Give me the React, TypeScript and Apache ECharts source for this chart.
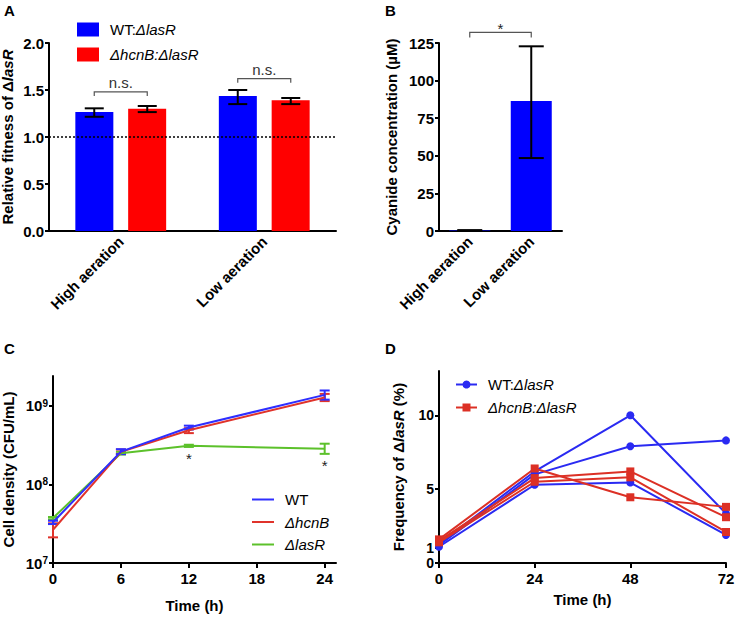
import React, { useEffect, useRef } from "react";
import * as echarts from "echarts";

const FONT = 'Arial, "Liberation Sans", Helvetica, sans-serif';

// ---------- Panel A: relative fitness of ΔlasR ----------
const aerationCategories = ["High aeration", "Low aeration"];
const fitnessWT = [1.265, 1.435];
const fitnessWTLow = [1.215, 1.35];
const fitnessWTHigh = [1.305, 1.5];
const fitnessHcnB = [1.3, 1.39];
const fitnessHcnBLow = [1.265, 1.35];
const fitnessHcnBHigh = [1.33, 1.415];
const fitnessBracketY = [1.48, 1.62];
const fitnessBracketLabels = ["n.s.", "n.s."];
const fitnessNeutral = 1.0;

// ---------- Panel B: cyanide concentration ----------
const cyanideMean = [0.3, 86.4];
const cyanideLow = [0.0, 48.5];
const cyanideHigh = [0.6, 122.8];
const cyanideBracket = [0, 1, 132];
const cyanideBracketLabel = "*";

// ---------- Panel C: growth curves ----------
const growthTimes = [0, 6, 12, 24];
const growthTimeTicks = [0, 6, 12, 18, 24];
const densityTicks = [1e7, 1e8, 1e9];
const growthWT = [3.3e7, 2.62e8, 5.3e8, 1.38e9];
const growthWTLow = [3.13e7, 2.43e8, 5.0e8, 1.2e9];
const growthWTHigh = [3.45e7, 2.81e8, 5.6e8, 1.57e9];
const growthHcnB = [2.65e7, 2.6e8, 4.9e8, 1.28e9];
const growthHcnBLow = [2.12e7, 2.45e8, 4.5e8, 1.15e9];
const growthHcnBHigh = [3.2e7, 2.78e8, 5.2e8, 1.42e9];
const growthLasR = [3.73e7, 2.5e8, 3.1e8, 2.85e8];
const growthLasRLow = [3.6e7, 2.4e8, 3.0e8, 2.45e8];
const growthLasRHigh = [3.85e7, 2.6e8, 3.2e8, 3.3e8];
const starTimes = [12, 24];
const starValues = [2.31e8, 1.88e8];

// ---------- Panel D: frequency of ΔlasR ----------
const freqTimes = [0, 24, 48, 72];
const freqTicks = [1, 5, 10];
const freqZeroTick = [0];
const freqWT1 = [1.3, 6.2, 10.0, 3.35];
const freqWT2 = [1.2, 6.0, 7.9, 8.3];
const freqWT3 = [1.1, 5.3, 5.45, 1.9];
const freqHcnB1 = [1.6, 6.4, 4.45, 3.8];
const freqHcnB2 = [1.5, 5.75, 6.2, 3.1];
const freqHcnB3 = [1.4, 5.5, 5.8, 2.1];

const BLUE = "#0000ff";
const RED = "#ff0000";
const C_BLUE = "#2e2eff";
const C_RED = "#e0332b";
const C_GREEN = "#5cc12b";
const D_BLUE = "#2a2af2";
const D_RED = "#dc3025";

const legendLabels: Record<string, string> = {
  A_WT: "WT:{i|ΔlasR}",
  A_HCNB: "{i|ΔhcnB:ΔlasR}",
  C_WT: "WT",
  C_HCNB: "{i|ΔhcnB}",
  C_LASR: "{i|ΔlasR}",
  D_WT: "WT:{i|ΔlasR}",
  D_HCNB: "{i|ΔhcnB:ΔlasR}",
};

const tickLabel = {
  color: "#000",
  fontSize: 15,
  fontWeight: "bold" as const,
  fontFamily: FONT,
  showMinLabel: true,
  showMaxLabel: true,
  hideOverlap: false,
};
const axisLine = { show: true, onZero: false, lineStyle: { color: "#000", width: 2 } };
const axisTick = { show: true, length: 4, lineStyle: { color: "#000", width: 2 } };
const nameStyle = {
  color: "#000",
  fontSize: 15,
  fontWeight: "bold" as const,
  fontFamily: FONT,
  rich: { i: { fontStyle: "italic", fontWeight: "bold", fontSize: 15, fontFamily: FONT, color: "#000" } },
};

function errorBars(offset: number, capHalf: number, color: string) {
  return (_params: any, api: any) => {
    const lo = api.coord([api.value(0), api.value(1)]);
    const hi = api.coord([api.value(0), api.value(2)]);
    const cx = lo[0] + offset;
    const style = { stroke: color, lineWidth: 2 };
    return {
      type: "group",
      children: [
        { type: "line", shape: { x1: cx, y1: lo[1], x2: cx, y2: hi[1] }, style },
        { type: "line", shape: { x1: cx - capHalf, y1: lo[1], x2: cx + capHalf, y2: lo[1] }, style },
        { type: "line", shape: { x1: cx - capHalf, y1: hi[1], x2: cx + capHalf, y2: hi[1] }, style },
      ],
    };
  };
}

function pairs(xs: number[], ys: number[]) {
  return xs.map((x, i) => [x, ys[i]]);
}

function buildOption(): any {
  const BAR_OFF = 26.5;
  const series: any[] = [];

  // Panel A
  series.push({
    type: "bar",
    name: "A_WT",
    xAxisIndex: 0,
    yAxisIndex: 0,
    data: fitnessWT,
    barWidth: 38,
    barGap: "39%",
    itemStyle: { color: BLUE },
    markLine: {
      silent: true,
      symbol: ["none", "none"],
      label: { show: false },
      lineStyle: { type: [2, 2], color: "#000", width: 1.5 },
      data: [{ yAxis: fitnessNeutral }],
    },
  });
  series.push({
    type: "bar",
    name: "A_HCNB",
    xAxisIndex: 0,
    yAxisIndex: 0,
    data: fitnessHcnB,
    barWidth: 38,
    barGap: "39%",
    itemStyle: { color: RED },
  });
  series.push({
    type: "custom",
    xAxisIndex: 0,
    yAxisIndex: 0,
    z: 5,
    encode: { x: 0, y: [1, 2] },
    data: aerationCategories.map((_, i) => [i, fitnessWTLow[i], fitnessWTHigh[i]]),
    renderItem: errorBars(-BAR_OFF, 9.5, "#000"),
  });
  series.push({
    type: "custom",
    xAxisIndex: 0,
    yAxisIndex: 0,
    z: 5,
    encode: { x: 0, y: [1, 2] },
    data: aerationCategories.map((_, i) => [i, fitnessHcnBLow[i], fitnessHcnBHigh[i]]),
    renderItem: errorBars(BAR_OFF, 9.5, "#000"),
  });
  series.push({
    type: "custom",
    xAxisIndex: 0,
    yAxisIndex: 0,
    clip: false,
    encode: { x: 0, y: 1 },
    data: fitnessBracketY.map((y, i) => [i, y]),
    renderItem: (params: any, api: any) => {
      const p = api.coord([api.value(0), api.value(1)]);
      const l = p[0] - BAR_OFF;
      const r = p[0] + BAR_OFF;
      const y = p[1];
      return {
        type: "group",
        children: [
          {
            type: "polyline",
            shape: { points: [[l, y + 4], [l, y], [r, y], [r, y + 4]] },
            style: { stroke: "#555", lineWidth: 1.2, fill: null },
          },
          {
            type: "text",
            x: (l + r) / 2,
            y: y - 2,
            style: {
              text: fitnessBracketLabels[params.dataIndex],
              fontSize: 15,
              fontFamily: FONT,
              fill: "#333",
              align: "center",
              verticalAlign: "bottom",
            },
          },
        ],
      };
    },
  });

  // Panel B
  series.push({
    type: "bar",
    name: "B_CN",
    xAxisIndex: 1,
    yAxisIndex: 1,
    data: cyanideMean,
    barWidth: 41,
    itemStyle: { color: BLUE },
  });
  series.push({
    type: "custom",
    xAxisIndex: 1,
    yAxisIndex: 1,
    z: 5,
    clip: false,
    encode: { x: 0, y: [1, 2] },
    data: aerationCategories.map((_, i) => [i, cyanideLow[i], cyanideHigh[i]]),
    renderItem: errorBars(0, 12.5, "#000"),
  });
  series.push({
    type: "custom",
    xAxisIndex: 1,
    yAxisIndex: 1,
    clip: false,
    encode: { x: 0, y: 2 },
    data: [cyanideBracket],
    renderItem: (_params: any, api: any) => {
      const p0 = api.coord([api.value(0), api.value(2)]);
      const p1 = api.coord([api.value(1), api.value(2)]);
      const y = p0[1];
      return {
        type: "group",
        children: [
          {
            type: "polyline",
            shape: { points: [[p0[0], y + 5], [p0[0], y], [p1[0], y], [p1[0], y + 5]] },
            style: { stroke: "#555", lineWidth: 1.2, fill: null },
          },
          {
            type: "text",
            x: (p0[0] + p1[0]) / 2,
            y: y - 4,
            style: {
              text: cyanideBracketLabel,
              fontSize: 15,
              fontFamily: FONT,
              fill: "#222",
              align: "center",
              verticalAlign: "middle",
            },
          },
        ],
      };
    },
  });

  // Panel C
  const cGroups = [
    { name: "C_LASR", mean: growthLasR, lo: growthLasRLow, hi: growthLasRHigh, color: C_GREEN },
    { name: "C_HCNB", mean: growthHcnB, lo: growthHcnBLow, hi: growthHcnBHigh, color: C_RED },
    { name: "C_WT", mean: growthWT, lo: growthWTLow, hi: growthWTHigh, color: C_BLUE },
  ];
  cGroups.forEach((g) => {
    series.push({
      type: "line",
      name: g.name,
      xAxisIndex: 2,
      yAxisIndex: 2,
      data: pairs(growthTimes, g.mean),
      symbol: "none",
      lineStyle: { color: g.color, width: 2 },
      itemStyle: { color: g.color },
    });
    series.push({
      type: "custom",
      xAxisIndex: 2,
      yAxisIndex: 2,
      clip: false,
      encode: { x: 0, y: [1, 2] },
      data: growthTimes.map((t, i) => [t, g.lo[i], g.hi[i]]),
      renderItem: errorBars(0, 5, g.color),
    });
  });
  series.push({
    type: "custom",
    xAxisIndex: 2,
    yAxisIndex: 2,
    clip: false,
    encode: { x: 0, y: 1 },
    data: pairs(starTimes, starValues),
    renderItem: (_params: any, api: any) => {
      const p = api.coord([api.value(0), api.value(1)]);
      return {
        type: "text",
        x: p[0],
        y: p[1] + 3,
        style: { text: "*", fontSize: 15, fontFamily: FONT, fill: "#222", align: "center", verticalAlign: "middle" },
      };
    },
  });

  // Panel D
  const dGroups = [
    { name: "D_WT", data: freqWT1, color: D_BLUE, symbol: "circle" },
    { name: "D_WT_2", data: freqWT2, color: D_BLUE, symbol: "circle" },
    { name: "D_WT_3", data: freqWT3, color: D_BLUE, symbol: "circle" },
    { name: "D_HCNB", data: freqHcnB1, color: D_RED, symbol: "rect" },
    { name: "D_HCNB_2", data: freqHcnB2, color: D_RED, symbol: "rect" },
    { name: "D_HCNB_3", data: freqHcnB3, color: D_RED, symbol: "rect" },
  ];
  dGroups.forEach((g) => {
    series.push({
      type: "line",
      name: g.name,
      xAxisIndex: 3,
      yAxisIndex: 3,
      data: pairs(freqTimes, g.data),
      symbol: g.symbol,
      symbolSize: 8,
      showSymbol: true,
      lineStyle: { color: g.color, width: 2 },
      itemStyle: { color: g.color, borderWidth: 0 },
    });
  });

  const legendText = (fs: number) => ({
    color: "#000",
    fontSize: fs,
    fontFamily: FONT,
    padding: [0, 0, 0, 6],
    rich: { i: { fontStyle: "italic", fontSize: fs, fontFamily: FONT, color: "#000" } },
  });

  return {
    animation: false,
    textStyle: { fontFamily: FONT },
    grid: [
      { left: 49, top: 43, width: 287, height: 188, outerBoundsMode: "none" },
      { left: 439, top: 43, width: 123, height: 188, outerBoundsMode: "none" },
      { left: 53, top: 376, width: 283, height: 187, outerBoundsMode: "none" },
      { left: 439, top: 371, width: 287, height: 192, outerBoundsMode: "none" },
    ],
    xAxis: [
      {
        type: "category",
        gridIndex: 0,
        data: aerationCategories,
        axisLine,
        axisTick: { show: false },
        axisLabel: { ...tickLabel, rotate: 45, interval: 0, margin: 8 },
        splitLine: { show: false },
      },
      {
        type: "category",
        gridIndex: 1,
        data: aerationCategories,
        axisLine,
        axisTick: { show: false },
        axisLabel: { ...tickLabel, rotate: 45, interval: 0, margin: 8 },
        splitLine: { show: false },
      },
      {
        type: "value",
        gridIndex: 2,
        min: 0,
        max: 25,
        axisLine,
        axisTick: { ...axisTick, length: 5, customValues: growthTimeTicks },
        axisLabel: { ...tickLabel, margin: 8, customValues: growthTimeTicks },
        splitLine: { show: false },
        name: "Time (h)",
        nameLocation: "middle",
        nameGap: 35,
        nameMoveOverlap: false,
        nameTextStyle: nameStyle,
      },
      {
        type: "value",
        gridIndex: 3,
        min: 0,
        max: 72,
        interval: 24,
        axisLine,
        axisTick: { ...axisTick, length: 5 },
        axisLabel: { ...tickLabel, margin: 8 },
        splitLine: { show: false },
        name: "Time (h)",
        nameLocation: "middle",
        nameGap: 29,
        nameMoveOverlap: false,
        nameTextStyle: nameStyle,
      },
    ],
    yAxis: [
      {
        type: "value",
        gridIndex: 0,
        min: 0,
        max: 2,
        interval: 0.5,
        axisLine,
        axisTick,
        axisLabel: { ...tickLabel, margin: 5, formatter: (v: number) => v.toFixed(1) },
        splitLine: { show: false },
        name: "Relative fitness of Δ{i|lasR}",
        nameLocation: "middle",
        nameGap: 34,
        nameMoveOverlap: false,
        nameTextStyle: nameStyle,
      },
      {
        type: "value",
        gridIndex: 1,
        min: 0,
        max: 125,
        interval: 25,
        axisLine,
        axisTick,
        axisLabel: { ...tickLabel, margin: 5 },
        splitLine: { show: false },
        name: "Cyanide concentration (µM)",
        nameLocation: "middle",
        nameGap: 40,
        nameMoveOverlap: false,
        nameTextStyle: nameStyle,
      },
      {
        type: "log",
        logBase: 10,
        gridIndex: 2,
        min: 1e7,
        max: 2.4e9,
        axisLine,
        axisTick: { ...axisTick, customValues: densityTicks },
        axisLabel: {
          ...tickLabel,
          margin: 5,
          customValues: densityTicks,
          formatter: (v: number) => "10{sup|" + Math.round(Math.log10(v)) + "}",
          rich: {
            sup: { fontSize: 10, fontWeight: "bold", fontFamily: FONT, color: "#000", verticalAlign: "top" },
          },
        },
        minorTick: { show: false },
        splitLine: { show: false },
        name: "Cell density (CFU/mL)",
        nameLocation: "middle",
        nameGap: 37,
        nameMoveOverlap: false,
        nameTextStyle: nameStyle,
      },
      {
        type: "value",
        gridIndex: 3,
        min: 0,
        max: 13,
        position: "left",
        offset: 0,
        axisLine,
        axisTick: { ...axisTick, customValues: freqTicks },
        axisLabel: { ...tickLabel, fontSize: 14, margin: 5, lineHeight: 12, customValues: freqTicks },
        splitLine: { show: false },
        name: "Frequency of Δ{i|lasR} (%)",
        nameLocation: "middle",
        nameGap: 33,
        nameMoveOverlap: false,
        nameTextStyle: nameStyle,
      },
      {
        type: "value",
        gridIndex: 3,
        min: 0,
        max: 13,
        position: "left",
        offset: 0,
        axisLine: { show: false },
        axisTick: { ...axisTick, customValues: freqZeroTick },
        axisLabel: { ...tickLabel, fontSize: 14, margin: 5, lineHeight: 12, customValues: freqZeroTick },
        splitLine: { show: false },
      },
    ],
    legend: [
      {
        left: 77,
        top: 22,
        orient: "vertical",
        padding: 0,
        icon: "rect",
        itemWidth: 22,
        itemHeight: 14,
        itemGap: 10,
        selectedMode: false,
        data: ["A_WT", "A_HCNB"],
        formatter: (n: string) => legendLabels[n],
        textStyle: legendText(15),
      },
      {
        left: 252,
        top: 492,
        orient: "vertical",
        padding: 0,
        icon: "path://M0,0L22,0L22,2L0,2Z",
        itemWidth: 22,
        itemHeight: 14,
        itemGap: 7.5,
        selectedMode: false,
        data: ["C_WT", "C_HCNB", "C_LASR"],
        formatter: (n: string) => legendLabels[n],
        textStyle: legendText(15),
      },
      {
        left: 455,
        top: 377,
        orient: "vertical",
        padding: 0,
        itemWidth: 21,
        itemHeight: 10,
        itemGap: 8,
        selectedMode: false,
        data: ["D_WT", "D_HCNB"],
        formatter: (n: string) => legendLabels[n],
        textStyle: legendText(15),
      },
    ],
    graphic: [
      { type: "text", left: 4, top: 3, style: { text: "A", font: "bold 15px " + FONT, fill: "#000" } },
      { type: "text", left: 385, top: 3, style: { text: "B", font: "bold 15px " + FONT, fill: "#000" } },
      { type: "text", left: 4, top: 341, style: { text: "C", font: "bold 15px " + FONT, fill: "#000" } },
      { type: "text", left: 385, top: 341, style: { text: "D", font: "bold 15px " + FONT, fill: "#000" } },
    ],
    series,
  };
}

export default function App() {
  const ref = useRef<HTMLDivElement>(null);
  useEffect(() => {
    document.body.style.margin = "0";
    const chart = echarts.init(ref.current!, null, { renderer: "svg" });
    chart.setOption(buildOption());
    return () => chart.dispose();
  }, []);
  return <div ref={ref} style={{ width: 735, height: 618, background: "#fff" }} />;
}
